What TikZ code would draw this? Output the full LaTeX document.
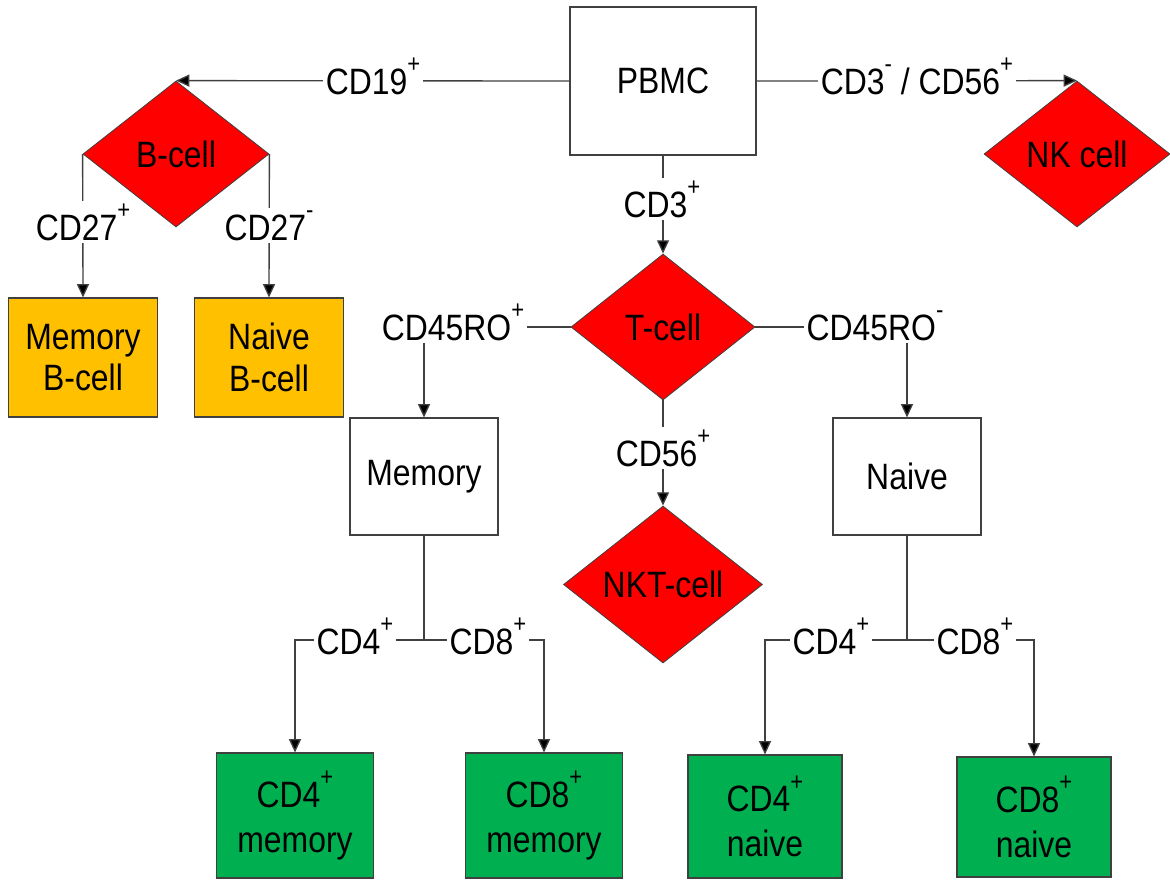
\documentclass[tikz,border=0pt]{standalone}
\usepackage{fontspec}
\setmainfont{Liberation Sans}[FakeStretch=0.87]
\usetikzlibrary{shapes.geometric,arrows.meta}
\newcommand\sups[1]{\raisebox{16pt}{\fontsize{19}{19}\selectfont #1}}
\definecolor{cred}{HTML}{FF0000}
\definecolor{corange}{HTML}{FFC000}
\definecolor{cgreen}{HTML}{00B050}
\definecolor{cline}{HTML}{404040}
\begin{document}
\begin{tikzpicture}[x=0.75pt,y=-0.75pt,
  font=\fontsize{27.5}{31}\selectfont,
  box/.style={draw=cline, line width=0.8pt, inner sep=0pt, align=center},
  whitebox/.style={box, fill=white},
  orangebox/.style={box, fill=corange, minimum width=111.75pt, minimum height=89.25pt},
  greenbox/.style={box, fill=cgreen, font=\fontsize{27.5}{34}\selectfont},
  dia/.style={diamond, draw=cline, line width=0.6pt, fill=cred, inner sep=0pt},
  conn/.style={draw=cline, line width=1pt, -{Triangle[length=10pt,width=9pt,fill=black]}},
  plain/.style={draw=cline, line width=1pt},
  lbl/.style={fill=white, inner sep=2pt, anchor=base}]
\useasboundingbox (0,0) rectangle (1170,879);
% nodes
\node[whitebox, minimum width=139.5pt, minimum height=111pt] (PBMC) at (663,81) {PBMC};
\node[dia, minimum width=139.5pt, minimum height=109.5pt] (B) at (176,154) {B-cell};
\node[dia, minimum width=139.5pt, minimum height=109.5pt] (NK) at (1077,154) {NK cell};
\node[dia, minimum width=138pt, minimum height=109.5pt] (T) at (663,327) {T-cell};
\node[dia, minimum width=149.25pt, minimum height=117.75pt] (NKT) at (663,584.5) {NKT-cell};
\node[orangebox] (MemB) at (83,357.5) {Memory\\B-cell};
\node[orangebox] (NaiveB) at (269,357.5) {Naive\\B-cell};
\node[whitebox, minimum width=111pt, minimum height=87.75pt] (Mem) at (424,476.5) {Memory};
\node[whitebox, minimum width=111pt, minimum height=87.75pt] (Naive) at (907,476.5) {Naive};
\node[greenbox, minimum width=117.75pt, minimum height=93.75pt] (CDfm) at (295,815.5) {CD4\sups{+}\\memory};
\node[greenbox, minimum width=117.75pt, minimum height=93.75pt] (CDem) at (544,815.5) {CD8\sups{+}\\memory};
\node[greenbox, minimum width=115.5pt, minimum height=92.25pt] (CDfn) at (765,816.5) {CD4\sups{+}\\naive};
\node[greenbox, minimum width=115.5pt, minimum height=90pt] (CDen) at (1034,817) {CD8\sups{+}\\naive};
\coordinate (jm) at (424,640);
\coordinate (jn) at (907,640);
% connectors
\draw[conn] (PBMC.west) -- (B.north);
\draw[conn] (PBMC.east) -- (NK.north);
\draw[conn] (PBMC.south) -- (T.north);
\draw[conn] (B.west) -- (MemB.north);
\draw[conn] (B.east) -- (NaiveB.north);
\draw[conn] (T.west) -| (Mem.north);
\draw[conn] (T.east) -| (Naive.north);
\draw[conn] (T.south) -- (NKT.north);
\draw[plain] (Mem.south) -- (jm);
\draw[conn] (jm) -| (CDfm.north);
\draw[conn] (jm) -| (CDem.north);
\draw[plain] (Naive.south) -- (jn);
\draw[conn] (jn) -| (CDfn.north);
\draw[conn] (jn) -| (CDen.north);
% labels
\node[lbl] (l19) at (373,94) {CD19\sups{+}};
\node[lbl] (l356) at (917,94) {CD3\sups{-} / CD56\sups{+}};
\node[lbl] (l3) at (662,217) {CD3\sups{+}};
\node[lbl] (l27p) at (83,240) {CD27\sups{+}};
\node[lbl] (l27m) at (269,240) {CD27\sups{-}};
\node[lbl] (l45p) at (453,340) {CD45RO\sups{+}};
\node[lbl] (l45m) at (875,340) {CD45RO\sups{-}};
\node[lbl] (l56) at (663,466) {CD56\sups{+}};
\node[lbl] (l4m) at (355,654) {CD4\sups{+}};
\node[lbl] (l8m) at (488,654) {CD8\sups{+}};
\node[lbl] (l4n) at (831,654) {CD4\sups{+}};
\node[lbl] (l8n) at (975,654) {CD8\sups{+}};
\end{tikzpicture}
\end{document}
